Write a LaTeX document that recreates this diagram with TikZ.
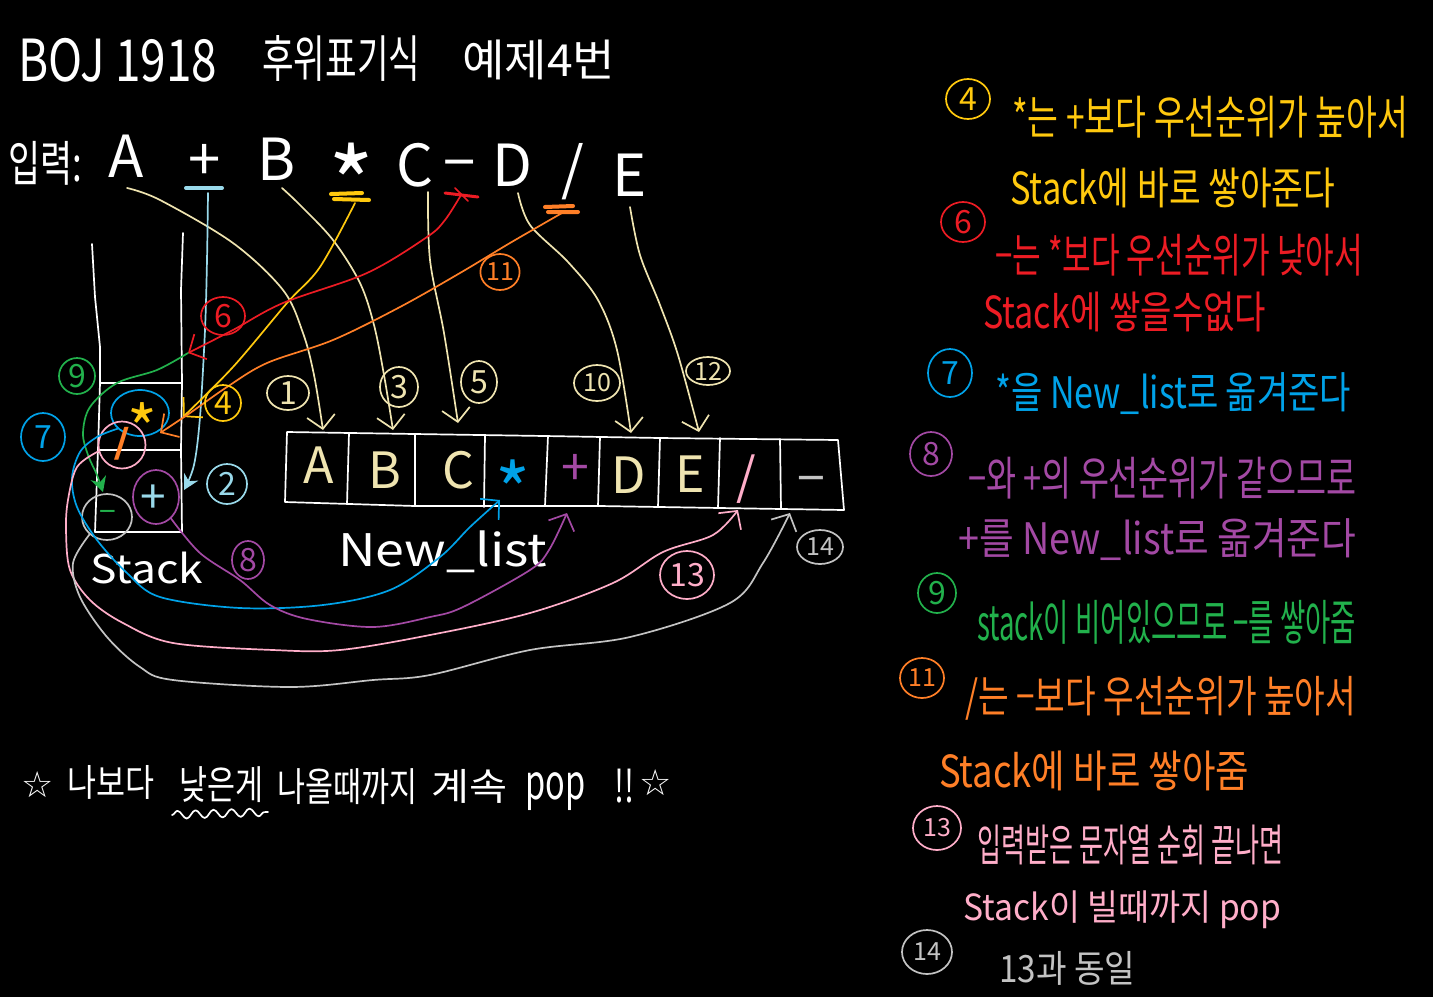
\documentclass[tikz,border=0pt]{standalone}
\usepackage{fontspec}
\setmainfont{Noto Sans CJK KR}
\newfontfamily\symfont{DejaVu Sans}
\usetikzlibrary{arrows.meta,shapes.geometric,decorations.pathmorphing}
\definecolor{cream}{HTML}{EFE4B0}
\definecolor{lblue}{HTML}{99D9EA}
\definecolor{pyellow}{HTML}{FFC90E}
\definecolor{pred}{HTML}{ED1C24}
\definecolor{pblue}{HTML}{00A2E8}
\definecolor{ppurple}{HTML}{A349A4}
\definecolor{pgreen}{HTML}{22B14C}
\definecolor{porange}{HTML}{FF7F27}
\definecolor{ppink}{HTML}{FFAEC9}
\definecolor{pgray}{HTML}{C3C3C3}
\newcommand\tx[3]{\resizebox*{#1pt}{#2pt}{#3}}
\newcommand\fs[1]{\fontsize{#1}{#1}\selectfont}
\tikzset{
  pen/.style={line width=1.7pt,line cap=round,line join=round},
  arr/.style={pen,-{Straight Barb[length=13pt,width=28pt]}},
  farr/.style={pen,-{Stealth[length=15pt,width=16pt]}},
  numc/.style={ellipse,draw,pen,inner sep=0pt,font=\fs{32}},
  numcs/.style={numc,font=\fs{25}},
  lbl/.style={inner sep=0pt,anchor=west},
  chr/.style={inner sep=0pt,font=\fs{58}},
  cell/.style={inner sep=0pt,font=\fs{50}},
  mk/.style={line width=4pt,line cap=round},
  sm/.style={smooth,tension=0.55},
}
\begin{document}
\begin{tikzpicture}[x=1pt,y=-1pt]
\fill[black] (0,0) rectangle (1433,997);
\useasboundingbox (0,0) rectangle (1433,997);

% ---------- title ----------
\node[lbl,white] (tA) at (18,60) {\tx{199}{44}{BOJ 1918}};
\node[lbl,white] (tB) at (262,58) {\tx{158}{46}{후위표기식}};
\node[lbl,white] (tC) at (462,60) {\tx{153}{40}{예제4번}};

% ---------- input ----------
\node[lbl,white] (inp) at (8,163) {\tx{74}{44}{입력:}};
\node[chr,white] (iA) at (126,156) {A};
\node[chr,white] (iP) at (205,162) {+};
\node[chr,white] (iB) at (277,159) {B};
\node[chr,white] (iM) at (352,182) {\scalebox{1.7}{*}};
\node[chr,white] (iC) at (415,165) {C};
\node[chr,white] (iS) at (460,172) {−};
\node[chr,white] (iD) at (512,165) {D};
\node[chr,white] (iV) at (573,172) {/};
\node[chr,white] (iE) at (630,175) {E};

% tail marks
\draw[lblue,mk] (186,188) -- (222,188);
\draw[pyellow,mk] (331,194) -- (362,193) (334,199) -- (369,200);
\draw[pred,mk,line width=3pt] (445,193) -- (478,197);
\draw[pred,pen] (455,188) -- (468,201);
\draw[porange,mk] (545,207) -- (573,206) (548,212) -- (578,212);

% ---------- stack ----------
\draw[white,pen] (92,244) -- (95,297) -- (100,347) -- (100,383) -- (98,450) -- (95,532) -- (182,532) -- (181,450) -- (182,383) -- (181,290) -- (183,233);
\draw[white,pen] (100,383) -- (182,383) (98,450) -- (181,450);
\node[lbl,white] (stk) at (90,568) {\tx{113}{32}{Stack}};

\node[ellipse,draw=pblue,pen,minimum width=58pt,minimum height=46pt,inner sep=0pt] (cStar) at (140,413) {};
\node[inner sep=0pt,text=pyellow,font=\fs{40}] (stStar) at (142,428) {\scalebox{1.6}{*}};
\node[circle,draw=ppink,pen,minimum size=47pt,inner sep=0pt] (cSl) at (122,445) {};
\node[inner sep=0pt,text=porange,font=\fs{40}] (stSl) at (122,444) {\symfont\bfseries /};
\node[ellipse,draw=pgray,pen,minimum width=50pt,minimum height=46pt,inner sep=0pt] (cMi) at (107,517) {};
\node[inner sep=0pt,text=pgreen,font=\fs{30}] (stMi) at (108,516) {−};
\node[ellipse,draw=ppurple,pen,minimum width=46pt,minimum height=54pt,inner sep=0pt] (cPl) at (156,497) {};
\node[inner sep=0pt,text=lblue,font=\fs{46}] (stPl) at (153,499) {+};

% ---------- new list ----------
\draw[white,pen] (287,432) -- (415,434) -- (545,436) -- (660,438) -- (838,440) -- (844,510) -- (720,508) -- (600,506) -- (415,506) -- (285,502) -- cycle;
\draw[white,pen] (349,433) -- (347,504) (415,434) -- (415,506) (485,435) -- (484,507) (548,436) -- (545,506) (600,437) -- (598,506) (660,438) -- (658,507) (720,438) -- (718,508) (780,439) -- (781,509);
\node[cell,cream] (lA) at (319,465) {A};
\node[cell,cream] (lB) at (385,470) {B};
\node[cell,cream] (lC) at (458,470) {C};
\node[cell,pblue] (lM) at (513,490) {\scalebox{1.5}{*}};
\node[cell,ppurple] (lP) at (575,470) {+};
\node[cell,cream] (lD) at (629,475) {D};
\node[cell,cream] (lE) at (690,474) {E};
\node[cell,ppink] (lV) at (746,479) {/};
\node[cell,pgray] (lS) at (811,486) {−};
\node[lbl,white] (nl) at (338,552) {\tx{209}{42}{New\_list}};

% ---------- connector coordinates ----------
\coordinate (s1) at (127,188);  \coordinate (e1) at (323,430);
\coordinate (s3) at (282,188);  \coordinate (e3) at (393,430);
\coordinate (s5) at (428,192);  \coordinate (e5) at (458,423);
\coordinate (s10) at (518,193); \coordinate (e10) at (631,433);
\coordinate (s12) at (630,207); \coordinate (e12) at (699,432);
\coordinate (s2) at (208,193);  \coordinate (e2) at (184,490);
\coordinate (s4) at (355,203);  \coordinate (e4) at (183,417);
\coordinate (s6) at (461,195);  \coordinate (e6) at (188,353);
\coordinate (e9) at (103,492);
\coordinate (s11) at (562,213); \coordinate (e11) at (160,433);
\coordinate (e7) at (500,500);
\coordinate (e8) at (567,513);
\coordinate (e13) at (738,510);
\coordinate (e14) at (790,513);

% cream arrows
\draw[arr,cream] plot[sm] coordinates {(s1) (160,200) (233,243) (283,290) (303,333) (314,375) (e1)};
\draw[arr,cream] plot[sm] coordinates {(s3) (300,205) (333,240) (360,283) (374,325) (384,375) (e3)};
\draw[arr,cream] plot[sm] coordinates {(s5) (430,260) (444,333) (e5)};
\draw[arr,cream] plot[sm] coordinates {(s10) (530,225) (568,262) (598,300) (617,350) (e10)};
\draw[arr,cream] plot[sm] coordinates {(s12) (640,255) (660,305) (678,355) (e12)};
% 2
\draw[farr,lblue] plot[sm] coordinates {(s2) (207,260) (205,330) (200,417) (194,465) (e2)};
% 4
\draw[arr,pyellow] plot[sm] coordinates {(s4) (320,267) (287,303) (233,367) (e4)};
% 6
\draw[arr,pred] plot[sm] coordinates {(s6) (445,220) (427,237) (367,273) (283,303) (233,330) (e6)};
% 9
\draw[farr,pgreen] plot[sm] coordinates {(e6) (157,370) (117,383) (90,407) (83,433) (88,455) (97,475) (e9)};
% 11
\draw[arr,porange] plot[sm] coordinates {(s11) (510,243) (460,273) (400,307) (333,340) (267,363) (227,387) (190,413) (e11)};
% 7
\draw[arr,pblue] plot[sm] coordinates {(cStar.215) (97,437) (80,452) (72,478) (77,507) (97,540) (127,573) (160,597) (240,608) (323,605) (390,590) (440,557) (470,527) (e7)};
% 8
\draw[arr,ppurple] plot[sm] coordinates {(cPl.-55) (200,553) (240,580) (270,605) (307,619) (373,627) (430,617) (463,607) (530,570) (549,550) (e8)};
% 13
\draw[arr,ppink] plot[sm] coordinates {(cSl.195) (77,467) (68,500) (66,530) (70,570) (90,600) (123,623) (173,643) (273,650) (340,650) (430,635) (530,613) (613,583) (663,552) (713,535) (e13)};
% 14
\draw[arr,pgray] plot[sm] coordinates {(cMi.225) (73,563) (80,597) (107,637) (140,667) (173,680) (290,687) (373,680) (430,675) (530,650) (630,637) (730,603) (763,563) (e14)};

% step labels on the left
\node[numc,cream,minimum width=42pt,minimum height=34pt] (n1) at (288,393) {1};
\node[numc,cream,minimum width=38pt,minimum height=40pt] (n3) at (399,387) {3};
\node[numc,cream,minimum width=36pt,minimum height=42pt] (n5) at (479,382) {5};
\node[numcs,cream,minimum width=46pt,minimum height=36pt] (n10) at (597,383) {10};
\node[numcs,cream,minimum width=44pt,minimum height=28pt] (n12) at (708,371) {12};
\node[numc,lblue,minimum width=40pt,minimum height=40pt] (n2) at (227,484) {2};
\node[numc,pyellow,minimum width=36pt,minimum height=36pt] (n4) at (223,403) {4};
\node[numc,pred,minimum width=44pt,minimum height=38pt] (n6) at (223,316) {6};
\node[numc,pblue,minimum width=44pt,minimum height=48pt] (n7) at (43,437) {7};
\node[numc,ppurple,minimum width=32pt,minimum height=38pt] (n8) at (248,560) {8};
\node[numc,pgreen,minimum width=36pt,minimum height=36pt] (n9) at (77,376) {9};
\node[numcs,porange,minimum width=36pt,minimum height=36pt] (n11) at (500,272) {11};
\node[numc,ppink,minimum width=54pt,minimum height=48pt] (n13) at (687,575) {13};
\node[numcs,pgray,minimum width=46pt,minimum height=34pt] (n14) at (820,547) {14};

% ---------- right column ----------
\node[numc,pyellow,minimum width=44pt,minimum height=40pt] (r4) at (968,99) {4};
\node[lbl,pyellow] (r4a) at (1012,117) {\tx{396}{42}{*는 +보다 우선순위가 높아서}};
\node[lbl,pyellow] (r4b) at (1010,188) {\tx{325}{40}{Stack에 바로 쌓아준다}};
\node[numc,pred,minimum width=44pt,minimum height=40pt] (r6) at (963,222) {6};
\node[lbl,pred] (r6a) at (995,255) {\tx{368}{42}{−는 *보다 우선순위가 낮아서}};
\node[lbl,pred] (r6b) at (983,312) {\tx{283}{40}{Stack에 쌓을수없다}};
\node[numc,pblue,minimum width=44pt,minimum height=48pt] (r7) at (950,373) {7};
\node[lbl,pblue] (r7a) at (995,394) {\tx{356}{42}{*을 New\_list로 옮겨준다}};
\node[numc,ppurple,minimum width=42pt,minimum height=44pt] (r8) at (931,454) {8};
\node[lbl,ppurple] (r8a) at (968,478) {\tx{388}{42}{−와 +의 우선순위가 같으므로}};
\node[lbl,ppurple] (r8b) at (958,540) {\tx{398}{42}{+를 New\_list로 옮겨준다}};
\node[numc,pgreen,minimum width=38pt,minimum height=40pt] (r9) at (937,593) {9};
\node[lbl,pgreen] (r9a) at (977,622) {\tx{379}{44}{stack이 비어있으므로 −를 쌓아줌}};
\node[numcs,porange,minimum width=44pt,minimum height=40pt] (r11) at (922,678) {11};
\node[lbl,porange] (r11a) at (965,698) {\tx{391}{44}{/는 −보다 우선순위가 높아서}};
\node[lbl,porange] (r11b) at (939,771) {\tx{310}{40}{Stack에 바로 쌓아줌}};
\node[numcs,ppink,minimum width=48pt,minimum height=44pt] (r13) at (937,828) {13};
\node[lbl,ppink] (r13a) at (977,845) {\tx{306}{40}{입력받은 문자열 순회 끝나면}};
\node[lbl,ppink] (r13b) at (963,910) {\tx{318}{38}{Stack이 빌때까지 pop}};
\node[numcs,pgray,minimum width=50pt,minimum height=44pt] (r14) at (927,952) {14};
\node[lbl,pgray] (r14a) at (999,968) {\tx{136}{34}{13과 동일}};

% ---------- bottom note ----------
\node[white,inner sep=0pt,font=\symfont\fs{36}] (st1) at (38,785) {☆};
\node[lbl,white] (w1) at (67,782) {\tx{87}{34}{나보다}};
\node[lbl,white] (w2) at (179,785) {\tx{84}{36}{낮은게}};
\node[lbl,white] (w3) at (277,787) {\tx{140}{36}{나올때까지}};
\node[lbl,white] (w4) at (431,786) {\tx{76}{34}{계속}};
\node[lbl,white] (w5) at (525,792) {\tx{60}{38}{pop}};
\node[lbl,white] (w6) at (614,786) {\tx{20}{34}{!!}};
\node[white,inner sep=0pt,font=\symfont\fs{36}] (st2) at (656,783) {☆};
\coordinate (wv1) at (172,815);
\coordinate (wv2) at (268,812);
\draw[white,pen,decorate,decoration={snake,amplitude=4pt,segment length=18pt}] (wv1) -- (wv2);
\end{tikzpicture}
\end{document}
